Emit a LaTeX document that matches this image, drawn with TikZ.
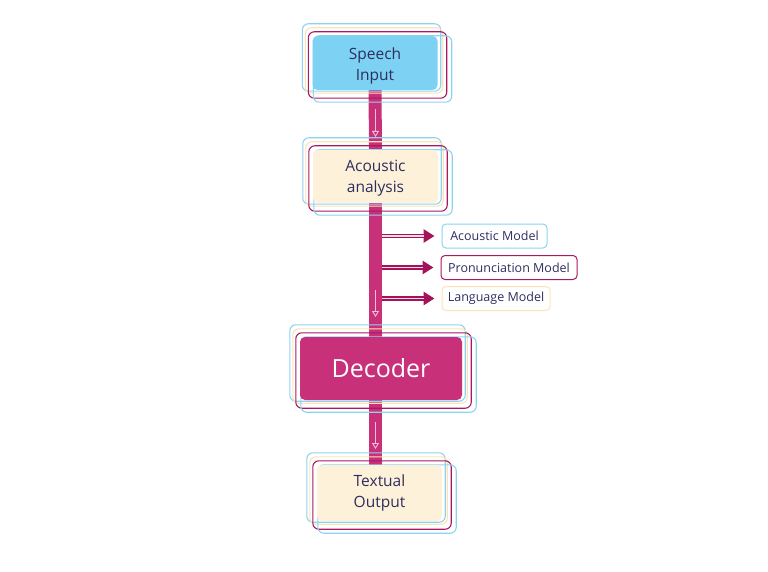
\documentclass[tikz,border=0pt]{standalone}
\usepackage{fontspec}
\setmainfont{Open Sans}
\usetikzlibrary{arrows.meta,backgrounds}
\definecolor{inkc}{HTML}{2D2E5F}
\definecolor{speechc}{HTML}{7DD1F2}
\definecolor{creamc}{HTML}{FEF1D9}
\definecolor{creamline}{HTML}{FBE3B8}
\definecolor{bluec}{HTML}{8CD3F1}
\definecolor{magc}{HTML}{C8317A}
\definecolor{magline}{HTML}{A8195E}
\definecolor{arrowc}{HTML}{A3135A}
\definecolor{pinkc}{HTML}{F4BFD6}
\tikzset{
	box/.style={rounded corners=5pt,align=center,text=inkc,inner sep=0pt,
		font=\fontsize{15.5}{21}\selectfont},
	boxtext/.style={align=center,text=inkc,inner sep=0pt,font=\fontsize{15.5}{21}\selectfont},
	frameblue/.style={draw=bluec,line width=1.1pt,rounded corners=6pt},
	framecream/.style={draw=creamline,line width=1.1pt,rounded corners=6pt},
	framemag/.style={draw=magline,line width=1.1pt,rounded corners=6pt},
	modelbox/.style={draw,rounded corners=4pt,line width=1pt,text=inkc,
		minimum height=24pt,inner sep=0pt,font=\fontsize{12.5}{14}\selectfont},
	stem/.style={magc,line width=13pt},
	downarrow/.style={pinkc,line width=0.9pt,-{Triangle[open,length=6pt,width=7pt]}},
	modelarrow/.style={arrowc,line width=4.6pt,-{Triangle[length=11pt,width=13pt]},
		shorten >=7pt,postaction={draw=pinkc!60!white,line width=1.6pt,-,shorten >=18pt}}
}
\newcommand{\frames}[1]{%
	\draw[frameblue] ([shift={(-10,-12)}]#1.north west) rectangle ([shift={(3,1)}]#1.south east);
	\draw[framecream] ([shift={(-7,-8)}]#1.north west) rectangle ([shift={(5,3)}]#1.south east);
	\draw[framemag] ([shift={(-4,-4)}]#1.north west) rectangle ([shift={(9,8)}]#1.south east);
	\draw[frameblue] ([shift={(1,0)}]#1.north west) rectangle ([shift={(14,12)}]#1.south east);
}
\begin{document}
\begin{tikzpicture}[x=1pt,y=-1pt]
	\useasboundingbox (0,0) rectangle (768,572);
	% boxes
	\path (375,63) node[box,fill=speechc,minimum width=125pt,minimum height=54pt,
		label={[boxtext,yshift=-2.5pt]center:Speech\\Input}] (speech) {};
	\path (375.5,176.5) node[box,fill=creamc,minimum width=125pt,minimum height=53pt,
		label={[boxtext,yshift=-1.5pt]center:Acoustic\\analysis}] (acoustic) {};
	\path (381,368.5) node[box,fill=magc,text=white,minimum width=162pt,minimum height=63pt,
		font=\fontsize{25}{30}\selectfont] (decoder) {Decoder};
	\path (379.5,493) node[box,fill=creamc,minimum width=125pt,minimum height=56pt] (textual) {Textual\\Output};
	\coordinate (stemx) at (382,0);
	\begin{scope}[on background layer]
		% stem
		\draw[stem] (speech.south) -- (acoustic.north);
		\draw[stem] (acoustic.south) -- (acoustic.south |- decoder.north);
		\draw[stem] (acoustic.south |- decoder.south) -- (acoustic.south |- textual.north);
		\frames{speech}
		\frames{acoustic}
		\frames{decoder}
		\frames{textual}
	\end{scope}
	\draw[downarrow] (375.5,109) -- (375.5,137);
	\draw[downarrow] (375.5,290) -- (375.5,317);
	\draw[downarrow] (375.5,422) -- (375.5,449);
	% models
	\path (494.5,236) node[modelbox,draw=bluec,minimum width=105pt] (acm) {Acoustic Model};
	\path (509,267.5) node[modelbox,draw=magline,minimum width=136pt] (prm) {Pronunciation Model};
	\path (496,298.5) node[modelbox,draw=creamline,minimum width=108pt] (lam) {Language Model};
	\draw[modelarrow] (stemx |- acm.west) -- (acm.west);
	\draw[modelarrow] (stemx |- prm.west) -- (prm.west);
	\draw[modelarrow] (stemx |- lam.west) -- (lam.west);
\end{tikzpicture}
\end{document}
